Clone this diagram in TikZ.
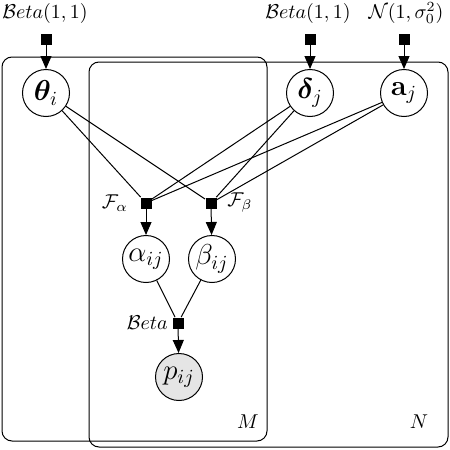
\documentclass[tikz,border=0pt]{standalone}
\usepackage{amsmath,bm}
\usetikzlibrary{arrows.meta}
\begin{document}
\begin{tikzpicture}[x=0.5pt,y=-0.5pt,
 latent/.style={circle,draw,line width=0.5pt,minimum size=23.5pt,inner sep=0pt,font=\Large},
 obs/.style={latent,fill=gray!20},
 fac/.style={rectangle,fill=black,minimum size=5.5pt,inner sep=0pt},
 plate/.style={draw,line width=0.5pt,rounded corners=5pt},
 arr/.style={-{Triangle[length=6.5pt,width=5.5pt]},line width=0.5pt},
 link/.style={line width=0.5pt},
 lab/.style={inner sep=0.5pt}]
\useasboundingbox (0,0) rectangle (450,450);
\draw[plate] (2,57) rectangle (267,441);
\draw[plate] (89,62) rectangle (448,447);
\node[lab] (lM) at (248,422) {$M$};
\node[lab] (lN) at (419,422) {$N$};
% nodes
\node[latent] (theta) at (46,93) {$\boldsymbol{\theta}_i$};
\node[latent] (delta) at (310,93) {$\boldsymbol{\delta}_j$};
\node[latent] (a) at (404,93) {$\mathbf{a}_j$};
\node[latent] (alpha) at (146,259) {$\alpha_{ij}$};
\node[latent] (beta) at (212,259) {$\beta_{ij}$};
\node[obs] (p) at (179,377) {$p_{ij}$};
% factors
\node[fac] (ft) at (46,39) {};
\node[fac] (fd) at (310,39) {};
\node[fac] (fa) at (404,39) {};
\node[fac] (Fa) at (146,203) {};
\node[fac] (Fb) at (211,203) {};
\node[fac] (Fp) at (178,323) {};
% labels
\node[lab] (lt) at (45,13) {$\mathcal{B}eta(1,1)$};
\node[lab] (ld) at (308,13) {$\mathcal{B}eta(1,1)$};
\node[lab] (la) at (406,13) {$\mathcal{N}(1,\sigma_0^2)$};
\node[lab,anchor=east] (lFa) at ([xshift=-5.5pt]Fa.west) {$\mathcal{F}_\alpha$};
\node[lab,anchor=west] (lFb) at ([xshift=4.5pt]Fb.east) {$\mathcal{F}_\beta$};
\node[lab,anchor=east] (lFp) at ([xshift=-1.5pt]Fp.west) {$\mathcal{B}eta$};
% edges
\draw[arr] (ft) -- (theta);
\draw[arr] (fd) -- (delta);
\draw[arr] (fa) -- (a);
\draw[link] (theta) -- (Fa);
\draw[link] (theta) -- (Fb);
\draw[link] (delta) -- (Fa);
\draw[link] (delta) -- (Fb);
\draw[link] (a) -- (Fa);
\draw[link] (a) -- (Fb);
\draw[arr] (Fa) -- (alpha);
\draw[arr] (Fb) -- (beta);
\draw[link] (alpha) -- (Fp);
\draw[link] (beta) -- (Fp);
\draw[arr] (Fp) -- (p);
\end{tikzpicture}
\end{document}
